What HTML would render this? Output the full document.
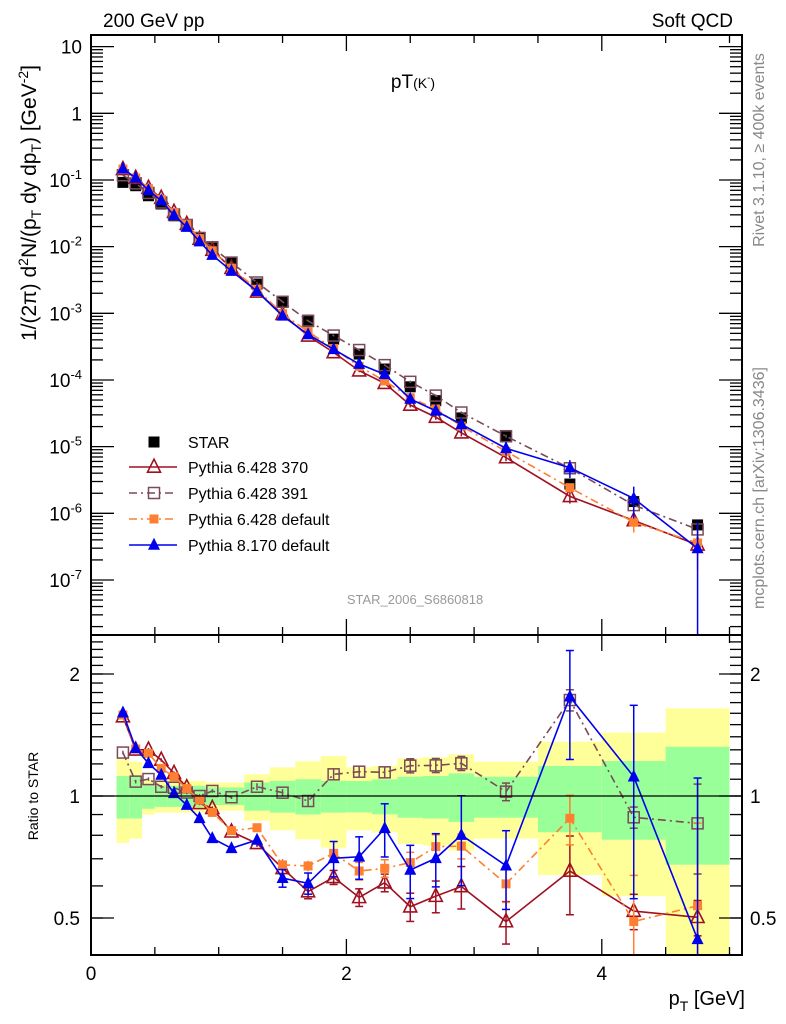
<!DOCTYPE html>
<html><head><meta charset="utf-8"><style>
html,body{margin:0;padding:0;background:#fff;overflow:hidden;width:786px;height:1024px;}
svg{display:block;font-family:"Liberation Sans",Arial,sans-serif;}
</style></head><body>
<svg id="chart" width="786" height="1024" viewBox="0 0 786 1024" xmlns="http://www.w3.org/2000/svg">
<g id="bands"></g>
<g id="grid"></g>
<g id="series"></g>
<g id="axes"></g>
<text x="103" y="27" font-size="19">200 GeV pp</text>
<text x="733" y="27" font-size="19" text-anchor="end">Soft QCD</text>
<text x="413" y="88" font-size="19" text-anchor="middle">pT<tspan font-size="14">(K</tspan><tspan font-size="10" dy="-7">-</tspan><tspan font-size="14" dy="7">)</tspan></text>
<text x="415" y="604" font-size="13" fill="#999" text-anchor="middle">STAR_2006_S6860818</text>
<text transform="translate(764,150) rotate(-90)" font-size="16" fill="#888" text-anchor="middle">Rivet 3.1.10, ≥ 400k events</text>
<text transform="translate(764,488) rotate(-90)" font-size="16" fill="#888" text-anchor="middle">mcplots.cern.ch [arXiv:1306.3436]</text>
<text transform="translate(36,203) rotate(-90)" font-size="21" text-anchor="middle">1/(2π) d<tspan font-size="14" dy="-8">2</tspan><tspan dy="8">N/(p</tspan><tspan font-size="14" dy="5">T</tspan><tspan dy="-5"> dy dp</tspan><tspan font-size="14" dy="5">T</tspan><tspan dy="-5">) [GeV</tspan><tspan font-size="14" dy="-8">-2</tspan><tspan dy="8">]</tspan></text>
<text transform="translate(38,796) rotate(-90)" font-size="14" text-anchor="middle">Ratio to STAR</text>
<text x="745" y="1005" font-size="20" text-anchor="end">p<tspan font-size="14" dy="6">T</tspan><tspan dy="-6"> [GeV]</tspan></text>
<g id="legend"></g>
</svg>
<script>
const pt = [0.25,0.35,0.45,0.55,0.65,0.75,0.85,0.95,1.1,1.3,1.5,1.7,1.9,2.1,2.3,2.5,2.7,2.9,3.25,3.75,4.25,4.75];
const starVals = [0.092,0.082,0.058,0.0436,0.029,0.0207,0.0135,0.0095,0.0058,0.00275,0.00146,7.9e-4,4.1e-4,2.45e-4,1.46e-4,7.9e-5,4.9e-5,2.7e-5,1.4e-5,2.75e-6,1.5e-6,6.7e-7];
const binEdges = [0.2,0.3,0.4,0.5,0.6,0.7,0.8,0.9,1.0,1.2,1.4,1.6,1.8,2.0,2.2,2.4,2.6,2.8,3.0,3.5,4.0,4.5,5.0];
const statErr = [0.12,0.12,0.07,0.06,0.06,0.06,0.06,0.05,0.05,0.08,0.09,0.1,0.09,0.089,0.099,0.116,0.12,0.137,0.116,0.186,0.22,0.323];
const totErr = [0.234,0.215,0.1,0.09,0.09,0.09,0.09,0.08,0.08,0.131,0.177,0.218,0.255,0.177,0.186,0.239,0.246,0.267,0.215,0.362,0.434,0.645];
const ratio370 = [1.57,1.30,1.30,1.227,1.138,1.05,0.959,0.933,0.816,0.764,0.663,0.581,0.63,0.562,0.611,0.533,0.566,0.598,0.49,0.653,0.52,0.502];
const ratio391 = [1.28,1.085,1.101,1.054,1.048,1.02,1.0,1.029,0.993,1.054,1.019,0.972,1.131,1.148,1.144,1.188,1.19,1.204,1.025,1.725,0.886,0.856];
const ratioP6def = [1.584,1.306,1.274,1.17,1.116,1.043,0.977,0.911,0.821,0.835,0.676,0.672,0.722,0.653,0.663,0.685,0.75,0.752,0.607,0.881,0.49,0.536];
const ratioP8 = [1.605,1.311,1.204,1.127,1.015,0.95,0.881,0.786,0.743,0.779,0.627,0.609,0.702,0.708,0.832,0.657,0.702,0.801,0.673,1.758,1.116,0.443];
const err370 = [0.01,0.01,0.01,0.01,0.01,0.01,0.01,0.01,0.015,0.02,0.03,0.04,0.04,0.05,0.05,0.08,0.09,0.12,0.12,0.22,0.1,0.1];
const err391 = [0.01,0.01,0.01,0.01,0.01,0.01,0.01,0.01,0.01,0.02,0.02,0.03,0.03,0.03,0.03,0.04,0.04,0.04,0.05,0.06,0.06,0.25];
const errP6def = [0.01,0.01,0.01,0.01,0.01,0.01,0.01,0.01,0.02,0.02,0.03,0.03,0.03,0.05,0.05,0.06,0.07,0.07,0.1,0.14,0.3,0.6];
const errP8 = [0.02,0.02,0.02,0.02,0.02,0.02,0.02,0.02,0.02,0.03,0.05,0.06,0.1,0.12,0.15,0.15,0.15,0.25,0.22,0.3,0.5,1.5];
const xTicks = [0,2,4];

const NS='http://www.w3.org/2000/svg';
const L=91,R=742,T=35,MB=635,RB=955;
const x=v=>L+v*127.7;
const yM=v=>113.3-Math.log10(v)*66.67;
const yR=r=>796-Math.log2(r)*122;
const cl=(v,a,b)=>Math.max(a,Math.min(b,v));
function el(tag,attrs,parent){const e=document.createElementNS(NS,tag);for(const k in attrs)e.setAttribute(k,attrs[k]);parent.appendChild(e);return e;}
const bands=document.getElementById('bands'),axes=document.getElementById('axes'),series=document.getElementById('series'),legend=document.getElementById('legend');

for(let i=0;i<totErr.length;i++){
  const x0=x(binEdges[i]),x1=x(binEdges[i+1]);
  const yt=yR(1+totErr[i]),yb=Math.min(RB,yR(Math.max(0.3,1-totErr[i])));
  const r1=el('rect',{x:x0,y:yt,width:x1-x0,height:yb-yt,fill:'#ffff99'},bands);
  
  
  const gt=yR(1+statErr[i]),gb=yR(1-statErr[i]);
  const r2=el('rect',{x:x0,y:gt,width:x1-x0,height:gb-gt,fill:'#99ff99'},bands);
  
  
}
const ul=el('line',{x1:L,x2:R,y1:yR(1),y2:yR(1),stroke:'#000','stroke-width':1.3},axes);



for(const [t,b,n] of [[T,MB,'main-frame'],[MB,RB,'ratio-frame']]){
  const f=el('rect',{x:L,y:t,width:R-L,height:b-t,fill:'none',stroke:'#000','stroke-width':2},axes);
  
  
}
function tick(x1,y1,x2,y2){el('line',{x1,y1,x2,y2,stroke:'#000','stroke-width':1.3},axes);}
for(let v=0;v<=5.01;v+=0.5){
  const px=x(v),long=(Math.abs(v%2)<0.01);
  const len=long?16:8;
  tick(px,T,px,T+len);tick(px,MB,px,MB-len);tick(px,MB,px,MB+len);tick(px,RB,px,RB-len);
}
for(const v of xTicks){
  const t=el('text',{x:x(v),y:980,'font-size':19,'text-anchor':'middle'},axes);t.textContent=v;
  
  
}
const labs={1:'10',0:'1'};
for(let d=-8;d<=1;d++){
  const py=yM(Math.pow(10,d));
  if(py>=T-1&&py<=MB){tick(L,py,L+23,py);tick(R,py,R-23,py);
    const t=el('text',{x:82,y:py+7,'font-size':19,'text-anchor':'end'},axes);
    if(d>=0)t.textContent=labs[d];else{t.textContent='10';const s=el('tspan',{dy:-8,'font-size':13},t);s.textContent=String(d);}
    
    
  }
  for(let m=2;m<=9;m++){const p=yM(m*Math.pow(10,d));if(p>T&&p<MB){tick(L,p,L+12,p);tick(R,p,R-12,p);}}
}
for(let r=0.5;r<=2.51;r+=0.1){const p=yR(r);if(p>MB&&p<RB){tick(L,p,L+12,p);tick(R,p,R-12,p);}}
for(const [r,s] of [[0.5,'0.5'],[1,'1'],[2,'2']]){
  const p=yR(r);tick(L,p,L+23,p);tick(R,p,R-23,p);
  const t=el('text',{x:80,y:p+7,'font-size':19,'text-anchor':'end'},axes);t.textContent=s;
  
  
  const t2=el('text',{x:750,y:p+7,'font-size':19},axes);t2.textContent=s;
  
  
}

function marker(g,type,cx,cy,color,s){
  if(type==='sq')el('rect',{x:cx-s/2,y:cy-s/2,width:s,height:s,fill:color},g);
  else if(type==='osq')el('rect',{x:cx-s/2,y:cy-s/2,width:s,height:s,fill:'none',stroke:color,'stroke-width':1.5},g);
  else if(type==='tri')el('polygon',{points:`${cx},${cy-s*0.6} ${cx-s/2},${cy+s*0.4} ${cx+s/2},${cy+s*0.4}`,fill:color},g);
  else if(type==='otri')el('polygon',{points:`${cx},${cy-s*0.6} ${cx-s/2},${cy+s*0.4} ${cx+s/2},${cy+s*0.4}`,fill:'#fff','fill-opacity':0.01,stroke:color,'stroke-width':1.6},g);
}
const models=[
 {name:'pythia-6428-370',label:'Pythia 6.428 370',r:ratio370,e:err370,c:'#a01020',m:'otri',s:13,dash:''},
 {name:'pythia-6428-391',label:'Pythia 6.428 391',r:ratio391,e:err391,c:'#7a4a5a',m:'osq',s:11,dash:'8,4,2,4'},
 {name:'pythia-6428-default',label:'Pythia 6.428 default',r:ratioP6def,e:errP6def,c:'#ff7f30',m:'sq',s:9,dash:'8,4,2,4'},
 {name:'pythia-8170-default',label:'Pythia 8.170 default',r:ratioP8,e:errP8,c:'#0000ee',m:'tri',s:12,dash:''}
];
const clipM=el('clipPath',{id:'cm'},series);el('rect',{x:L,y:T,width:R-L,height:MB-T},clipM);
const clipR=el('clipPath',{id:'cr'},series);el('rect',{x:L,y:MB,width:R-L,height:RB-MB},clipR);
const sg=el('g',{},series);


pt.forEach((p,i)=>marker(sg,'sq',x(p),yM(starVals[i]),'#000',11));
for(const md of models){
  const gm=el('g',{'clip-path':'url(#cm)'},series);
  
  
  const gr=el('g',{'clip-path':'url(#cr)'},series);
  
  
  const vals=pt.map((p,i)=>starVals[i]*md.r[i]);
  el('polyline',{points:pt.map((p,i)=>x(p)+','+yM(vals[i])).join(' '),fill:'none',stroke:md.c,'stroke-width':1.6,'stroke-dasharray':md.dash},gm);
  el('polyline',{points:pt.map((p,i)=>x(p)+','+yR(md.r[i])).join(' '),fill:'none',stroke:md.c,'stroke-width':1.6,'stroke-dasharray':md.dash},gr);
  pt.forEach((p,i)=>{
    const px=x(p),e=md.e[i];
    const lo=Math.max(1e-9,1-e);
    el('line',{x1:px,x2:px,y1:cl(yM(vals[i]*(1+e)),T,MB),y2:cl(yM(vals[i]*lo),T,MB),stroke:md.c,'stroke-width':1.5},gm);
    const ry1=cl(yR(md.r[i]*(1+e)),MB,RB),ry2=cl(yR(md.r[i]*lo),MB,RB);
    el('line',{x1:px,x2:px,y1:ry1,y2:ry2,stroke:md.c,'stroke-width':1.5},gr);
    if(e>0.03){el('line',{x1:px-4,x2:px+4,y1:ry1,y2:ry1,stroke:md.c,'stroke-width':1.5},gr);el('line',{x1:px-4,x2:px+4,y1:ry2,y2:ry2,stroke:md.c,'stroke-width':1.5},gr);}
    marker(gm,md.m,px,yM(vals[i]),md.c,md.s);
    marker(gr,md.m,px,yR(md.r[i]),md.c,md.s);
  });
}
const ly=[448,473,499,525,551];
const le0=el('g',{},legend);


marker(le0,'sq',154,ly[0]-6,'#000',11);
const t0=el('text',{x:188,y:ly[0],'font-size':16},le0);t0.textContent='STAR';
models.forEach((md,k)=>{
  const g=el('g',{},legend);
  
  
  const yy=ly[k+1]-6;
  el('line',{x1:129,x2:177,y1:yy,y2:yy,stroke:md.c,'stroke-width':1.6,'stroke-dasharray':md.dash},g);
  marker(g,md.m,154,yy,md.c,md.s);
  const t=el('text',{x:188,y:ly[k+1],'font-size':16},g);t.textContent=md.label;
});
</script>
</body></html>
